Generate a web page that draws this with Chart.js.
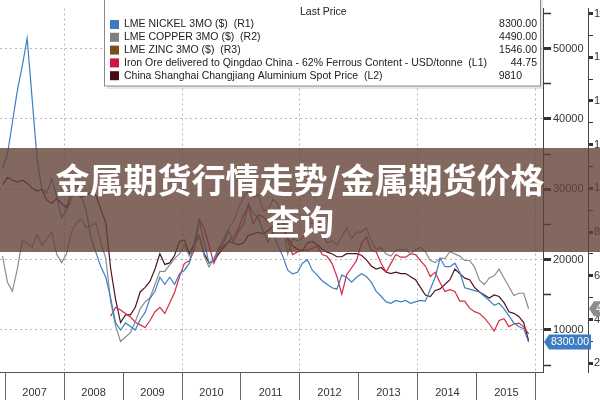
<!DOCTYPE html>
<html>
<head>
<meta charset="utf-8">
<title>金属期货行情走势</title>
<script src="https://cdn.jsdelivr.net/npm/chart.js@4.4.0/dist/chart.umd.min.js"></script>
<style>
  html, body { margin: 0; padding: 0; background: #fff; }
  #wrap { position: relative; width: 600px; height: 400px; overflow: hidden; }
</style>
</head>
<body>
<div id="wrap"><canvas id="chart" width="600" height="400"></canvas></div>
<script>
// monthly points, Dec 2006 - Nov 2015
const months = [
  '2006-12',
  '2007-01','2007-02','2007-03','2007-04','2007-05','2007-06','2007-07','2007-08','2007-09','2007-10','2007-11','2007-12',
  '2008-01','2008-02','2008-03','2008-04','2008-05','2008-06','2008-07','2008-08','2008-09','2008-10','2008-11','2008-12',
  '2009-01','2009-02','2009-03','2009-04','2009-05','2009-06','2009-07','2009-08','2009-09','2009-10','2009-11','2009-12',
  '2010-01','2010-02','2010-03','2010-04','2010-05','2010-06','2010-07','2010-08','2010-09','2010-10','2010-11','2010-12',
  '2011-01','2011-02','2011-03','2011-04','2011-05','2011-06','2011-07','2011-08','2011-09','2011-10','2011-11','2011-12',
  '2012-01','2012-02','2012-03','2012-04','2012-05','2012-06','2012-07','2012-08','2012-09','2012-10','2012-11','2012-12',
  '2013-01','2013-02','2013-03','2013-04','2013-05','2013-06','2013-07','2013-08','2013-09','2013-10','2013-11','2013-12',
  '2014-01','2014-02','2014-03','2014-04','2014-05','2014-06','2014-07','2014-08','2014-09','2014-10','2014-11','2014-12',
  '2015-01','2015-02','2015-03','2015-04','2015-05','2015-06','2015-07','2015-08','2015-09','2015-10','2015-11'
];

// LME nickel 3M, USD (R1)
const nickel = [
  33000,
  35000, 39500, 44000, 47500, 51500, 43000, 34500, 30000, 29500, 31500, 29000, 26000,
  27000, 28500, 31000, 29000, 27000, 23000, 21000, 19000, 17500, 14500, 11000, 10000,
  11000, 10500, 10000, 11500, 12500, 14500, 15500, 17500, 16500, 17500, 16500, 18000,
  18500, 19500, 22500, 25500, 22500, 19500, 20000, 21500, 22500, 24000, 22500, 24000,
  25000, 28000, 26500, 26000, 24000, 22500, 24000, 22000, 20500, 18500, 18000, 18200,
  19500, 20000, 18500, 17800, 17000, 16500, 16000, 15800, 17800, 17500, 16800, 17500,
  18000, 17600, 16800, 15500, 14800, 14000, 13800, 14200, 14000, 14200, 13800, 14000,
  14200, 14100, 15800, 17500, 20200, 19000, 19000, 19500, 18200, 16000, 15800, 15600,
  15400, 14800, 14200, 13500, 13800, 13000, 12000, 11000, 10500, 10200, 8300
];

// LME copper 3M, USD (R2)
const copper = [
  6900,
  5700, 5300, 6300, 7600, 7500, 7300, 7900, 7400, 7700, 8000, 7000, 6600,
  7000, 8000, 8400, 8600, 8200, 8300, 8400, 7500, 6800, 4800, 3700, 3000,
  3200, 3400, 3900, 4500, 4800, 5000, 5600, 6200, 6200, 6500, 6800, 7000,
  7400, 6900, 7400, 7800, 6900, 6400, 6800, 7300, 7700, 8200, 8500, 9100,
  9600, 9900, 9600, 9700, 9000, 9000, 9500, 9300, 8300, 7000, 7700, 7600,
  7700, 8400, 8400, 8300, 8000, 7500, 7600, 7400, 7800, 8200, 7700, 8000,
  8000, 8200, 7600, 7200, 7300, 7000, 6900, 7200, 7200, 7200, 7000, 7200,
  7300, 7100, 6700, 6600, 6800, 6800, 7100, 7000, 6900, 6700, 6700, 6400,
  5800, 5600, 5900, 6000, 6300, 5900, 5500, 5100, 5200, 5200, 4490
];

// LME zinc 3M, USD (R3)
const zinc = [
  4400,
  3700, 3300, 3200, 3700, 3800, 3500, 3600, 3300, 3000, 3000, 2600, 2400,
  2300, 2500, 2400, 2200, 2100, 1900, 1800, 1700, 1750, 1300, 1200, 1150,
  1250, 1150, 1250, 1400, 1500, 1550, 1650, 1850, 1900, 2100, 2200, 2450,
  2500, 2150, 2300, 2450, 2000, 1750, 1850, 2000, 2150, 2400, 2250, 2350,
  2450, 2450, 2350, 2400, 2150, 2250, 2400, 2300, 2100, 1850, 1950, 1900,
  1950, 2100, 2050, 2000, 1950, 1850, 1850, 1800, 2050, 1950, 1950, 2100,
  2050, 2150, 1950, 1900, 1850, 1850, 1850, 1900, 1850, 1900, 1880, 2000,
  2050, 2050, 2000, 2000, 2050, 2100, 2300, 2400, 2300, 2250, 2250, 2150,
  2100, 2100, 2050, 2200, 2400, 2150, 2000, 1950, 1750, 1750, 1546
];

// iron ore 62% Fe delivered Qingdao, USD/t (L1) - series starts Oct 2008
const ironOre = [
  null,
  null, null, null, null, null, null, null, null, null, null, null, null,
  null, null, null, null, null, null, null, null, null, 65, 75, 72,
  68, 64, 58, 55, 52, 60, 70, 75, 68, 80, 92, 110,
  125, 128, 140, 175, 165, 145, 125, 140, 145, 150, 155, 165,
  180, 190, 170, 180, 178, 172, 172, 178, 178, 150, 135, 138,
  140, 140, 142, 145, 135, 133, 125, 110, 90, 112, 120, 128,
  148, 155, 140, 138, 125, 115, 125, 135, 132, 132, 136, 135,
  128, 122, 110, 115, 103, 93, 95, 93, 82, 82, 74, 70,
  68, 63, 56, 48, 60, 62, 53, 56, 57, 53, 44.75
];

// Shanghai Changjiang aluminium spot, CNY (L2)
const aluminium = [
  20000,
  20500, 20300, 20200, 20300, 20100, 19800, 19600, 19700, 19000, 18800, 19100, 18800,
  18500, 19500, 19400, 19200, 19300, 19500, 19300, 18400, 17500, 14500, 12500, 11000,
  11500, 11500, 12000, 13000, 13300, 13700, 14500, 15500, 14800, 14900, 15400, 16300,
  16400, 15500, 16200, 16700, 15500, 14900, 15000, 15500, 15900, 16300, 16200, 16100,
  16200, 16700, 16800, 16900, 16800, 17000, 17300, 17400, 17300, 16500, 16000, 15800,
  15700, 16200, 16300, 16100, 15800, 15600, 15500, 15300, 15300, 15500, 15500, 15500,
  15400, 15100, 14700, 14500, 14600, 14300, 14200, 14300, 14200, 14200, 14000, 13800,
  13300, 12800, 12700, 13100, 13200, 13500, 13800, 14500, 14200, 13900, 13800, 13300,
  13000, 12800, 12600, 12800, 12700, 12300, 11700, 11600, 11400, 11000, 9810
];

const seriesNames = [
  'LME NICKEL 3MO ($)  (R1)',
  'LME COPPER 3MO ($)  (R2)',
  'LME ZINC 3MO ($)  (R3)',
  'Iron Ore delivered to Qingdao China - 62% Ferrous Content - USD/tonne  (L1)',
  'China Shanghai Changjiang Aluminium Spot Price  (L2)'
];
const lastPrices = ['8300.00', '4490.00', '1546.00', '44.75', '9810'];
const seriesColors = ['#3d7fc1', '#8c8c8c', '#8d6127', '#d42a45', '#4a1420'];
const legendColors = ['#3b7cc2', '#7f7f7f', '#7b4d1a', '#d0163c', '#4b0a1a'];

const yearTicks = [2007, 2008, 2009, 2010, 2011, 2012, 2013, 2014, 2015, 2016];
const r1Ticks = [5000, 10000, 15000, 20000, 25000, 30000, 35000, 40000, 45000, 50000, 55000];
const r2Ticks = [2000, 3000, 4000, 5000, 6000, 7000, 8000, 9000, 10000, 11000, 12000,
                 13000, 14000, 15000, 16000, 17000, 18000];

const titleLines = ['金属期货行情走势/金属期货价格', '查询'];

const FONT = '"Liberation Sans", Arial, sans-serif';

function monthToYear(s) {
    const [y, m] = s.split('-').map(Number);
    return y + (m - 0.5) / 12;
}

function toPoints(values) {
    return values.map((v, i) => ({ x: monthToYear(months[i]), y: v }));
}

function drawBadge(ctx, tipX, y, w, color, text) {
    ctx.beginPath();
    ctx.moveTo(tipX, y);
    ctx.lineTo(tipX + 5, y - 7.5);
    ctx.lineTo(tipX + 5 + w, y - 7.5);
    ctx.lineTo(tipX + 5 + w, y + 7.5);
    ctx.lineTo(tipX + 5, y + 7.5);
    ctx.closePath();
    ctx.fillStyle = color;
    ctx.fill();
    ctx.fillStyle = '#fff';
    ctx.font = '10.5px ' + FONT;
    ctx.textAlign = 'center';
    ctx.textBaseline = 'middle';
    ctx.fillText(text, tipX + 5 + w / 2, y + 0.5);
}

// legend box, last-price badges and the title banner
const overlay = {
    id: 'overlay',
    afterDraw(chart) {
        const ctx = chart.ctx;
        ctx.save();

        // legend box
        ctx.fillStyle = 'rgba(0,0,0,0.10)';
        ctx.fillRect(107, -2, 436, 91);
        ctx.fillStyle = '#fff';
        ctx.fillRect(104, -2, 437, 88);
        ctx.strokeStyle = '#8a8a8a';
        ctx.lineWidth = 1;
        ctx.strokeRect(104.5, -1.5, 436, 87.5);

        ctx.font = '10.5px ' + FONT;
        ctx.textBaseline = 'middle';
        ctx.fillStyle = '#222';
        ctx.textAlign = 'left';
        ctx.fillText('Last Price', 300, 12);

        seriesNames.forEach((name, i) => {
            const y = 24.5 + i * 12.8;
            ctx.fillStyle = legendColors[i];
            ctx.fillRect(110, y - 4.5, 9, 9);
            ctx.fillStyle = '#222';
            ctx.textAlign = 'left';
            ctx.fillText(name, 124, y);
            ctx.textAlign = 'right';
            ctx.fillText(lastPrices[i], i === 4 ? 522 : 537, y);
        });

        // last price markers on the right axes
        const r1 = chart.scales.y;
        const r2 = chart.scales.r2;
        drawBadge(ctx, chart.chartArea.right + 1, r1.getPixelForValue(nickel[nickel.length - 1]), 42, '#3d7cc2', lastPrices[0]);
        drawBadge(ctx, r2.left + 1, r2.getPixelForValue(copper[copper.length - 1]), 42, '#8c8c8c', lastPrices[1]);

        // banner
        ctx.fillStyle = 'rgba(100, 66, 56, 0.8)';
        ctx.fillRect(0, 148, 600, 104);
        ctx.fillStyle = '#fff';
        ctx.font = 'bold 34px "Noto Sans CJK SC", sans-serif';
        ctx.textAlign = 'center';
        ctx.textBaseline = 'middle';
        ctx.fillText(titleLines[0], 300, 180);
        ctx.fillText(titleLines[1], 300, 222);

        ctx.restore();
    }
};

const tickFont = { family: FONT, size: 11 };

new Chart(document.getElementById('chart'), {
    type: 'line',
    data: {
        datasets: [
            { label: seriesNames[0], data: toPoints(nickel), borderColor: seriesColors[0], yAxisID: 'y' },
            { label: seriesNames[1], data: toPoints(copper), borderColor: seriesColors[1], yAxisID: 'r2' },
            { label: seriesNames[2], data: toPoints(zinc), borderColor: seriesColors[2], yAxisID: 'r3' },
            { label: seriesNames[3], data: toPoints(ironOre), borderColor: seriesColors[3], yAxisID: 'l1' },
            { label: seriesNames[4], data: toPoints(aluminium), borderColor: seriesColors[4], yAxisID: 'l2' }
        ]
    },
    options: {
        responsive: false,
        animation: false,
        layout: { padding: 0, autoPadding: false },
        plugins: {
            legend: { display: false },
            title: { display: false },
            tooltip: { enabled: false }
        },
        elements: {
            point: { radius: 0 },
            line: { borderWidth: 1.2, tension: 0, fill: false }
        },
        scales: {
            x: {
                type: 'linear',
                position: 'bottom',
                min: 2006.915,
                max: 2016.119,
                afterBuildTicks: s => { s.ticks = yearTicks.map(v => ({ value: v })); },
                afterFit: s => { s.height = 28; },
                border: { color: '#555', dash: [2, 3] },
                grid: {
                    color: c => (c.tick && c.tick.value % 2 === 0) ? '#b8b8b8' : 'rgba(0,0,0,0)',
                    tickColor: '#666',
                    tickLength: 28,
                    tickBorderDash: []
                },
                ticks: {
                    autoSkip: false,
                    maxRotation: 0,
                    labelOffset: 29.5,
                    padding: -14,
                    color: '#333',
                    font: tickFont,
                    callback: v => v < 2016 ? String(v) : ''
                }
            },
            y: {
                position: 'right',
                weight: 0,
                min: 4028,
                max: 55694,
                afterBuildTicks: s => { s.ticks = r1Ticks.map(v => ({ value: v })); },
                afterFit: s => { s.width = 45; },
                border: { color: '#444', dash: [2, 3] },
                grid: {
                    color: c => (c.tick && c.tick.value % 10000 === 0) ? '#b8b8b8' : 'rgba(0,0,0,0)',
                    tickColor: '#333',
                    tickLength: 8,
                    tickWidth: c => (c.tick && c.tick.value % 10000 === 0) ? 3 : 1.5
                },
                ticks: {
                    padding: 2,
                    color: '#333',
                    font: tickFont,
                    callback: v => v % 10000 === 0 ? String(v) : ''
                }
            },
            r2: {
                position: 'right',
                weight: 1,
                min: 1598,
                max: 18223,
                afterBuildTicks: s => { s.ticks = r2Ticks.map(v => ({ value: v })); },
                afterFit: s => { s.width = 12; },
                border: { color: '#444' },
                grid: {
                    drawOnChartArea: false,
                    tickColor: '#333',
                    tickLength: 5,
                    tickWidth: c => (c.tick && c.tick.value % 2000 === 0) ? 3 : 1
                },
                ticks: {
                    padding: 1,
                    color: '#333',
                    font: tickFont,
                    callback: v => v % 2000 === 0 ? String(v) : ''
                }
            },
            r3: { display: false, min: 648, max: 4722 },
            l1: { display: false, min: 1.4, max: 414.75 },
            l2: { display: false, min: 7767, max: 31522 }
        }
    },
    plugins: [overlay]
});
</script>
</body>
</html>
